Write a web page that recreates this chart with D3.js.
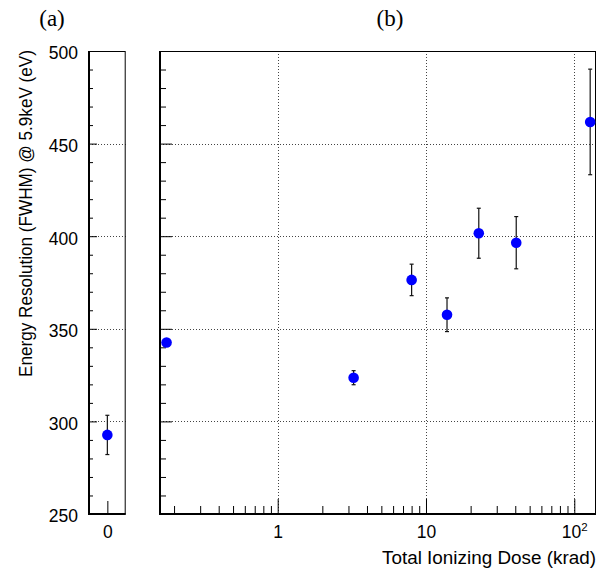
<!DOCTYPE html>
<html><head><meta charset="utf-8">
<script src="https://cdn.jsdelivr.net/npm/d3@7"></script>
<style>body{margin:0;background:#fff}svg{display:block}</style>
</head><body><svg id="c" width="597" height="572"></svg>
<script>
// ---- data ----
const preDose = [0];
const preValues = [292.7];
const preErrors = [10.6];
const doses = [0.178, 3.25, 8.0, 13.86, 22.7, 40.6, 128];
const values = [342.6, 323.6, 376.4, 357.6, 401.6, 396.5, 461.7];
const errors = [1.5, 3.8, 8.5, 9.1, 13.5, 14.1, 28.5];
const yMajorTicks = [250, 300, 350, 400, 450, 500];
const yGridTicks = [300, 350, 400, 450];
const xMajorTicks = [1, 10, 100];
const xTickLabels = ["1", "10", "10^2"];
const preTickLabels = ["0"];
const yTitle = "Energy Resolution (FWHM) @ 5.9keV (eV)";
const xTitle = "Total Ionizing Dose (krad)";
const panelLabels = ["(a)", "(b)"];

// ---- layout ----
const svg = d3.select("#c");
const plotTop = 51, plotBottom = 514;
const A = {x0: 89, x1: 125.7};
const B = {x0: 160, x1: 596};
const font = "'Liberation Sans', Arial, Helvetica, sans-serif";
const serif = "'Liberation Serif', 'Times New Roman', serif";
const fs = 17.5;

const y = d3.scaleLinear().domain([250, 500]).range([plotBottom, plotTop]);
const xa = d3.scaleLinear().domain([-1, 1]).range([A.x0, A.x1]);
const xb = d3.scaleLog().domain([0.1608, 140.1]).range([B.x0, B.x1]);

const yMinor = d3.range(250, 501, 10).filter(v => v % 50 !== 0);
const xMinor = [];
[0.1, 1, 10].forEach(d => { for (let k = 2; k <= 9; k++) { const v = +(d * k).toPrecision(3); if (v >= 0.1608 && v <= 140.1) xMinor.push(v); } });

// ---- grid ----
const grid = svg.append("g").attr("stroke", "#444").attr("stroke-width", 1).attr("stroke-dasharray", "1,2").attr("fill", "none");
[A, B].forEach(P => {
  grid.append("g").selectAll("line").data(yGridTicks).join("line")
    .attr("x1", P.x0).attr("x2", P.x1)
    .attr("y1", d => Math.round(y(d)) + 0.5).attr("y2", d => Math.round(y(d)) + 0.5);
});
grid.append("g").selectAll("line").data(xMajorTicks).join("line")
  .attr("x1", d => Math.round(xb(d)) + 0.5).attr("x2", d => Math.round(xb(d)) + 0.5)
  .attr("y1", plotTop).attr("y2", plotBottom);

// ---- axes ----
function styleAxis(g) {
  g.select(".domain").remove();
  g.selectAll("line").attr("stroke", "#000");
  g.selectAll("text").attr("font-family", font).attr("font-size", fs).attr("fill", "#000");
}
// left panel y
svg.append("g").attr("transform", `translate(${A.x0},0)`)
  .call(d3.axisLeft(y).tickValues(yMajorTicks).tickSize(-8).tickPadding(11).tickFormat(d3.format("d")))
  .call(styleAxis)
  .call(g => g.selectAll("text").attr("dy", "0.45em"));
svg.append("g").attr("transform", `translate(${A.x0},0)`)
  .call(d3.axisLeft(y).tickValues(yMinor).tickSize(-4).tickFormat(""))
  .call(styleAxis);
// right panel y
svg.append("g").attr("transform", `translate(${B.x0},0)`)
  .call(d3.axisLeft(y).tickValues(yMajorTicks).tickSize(-12).tickFormat(""))
  .call(styleAxis);
svg.append("g").attr("transform", `translate(${B.x0},0)`)
  .call(d3.axisLeft(y).tickValues(yMinor).tickSize(-6).tickFormat(""))
  .call(styleAxis);
// left panel x
svg.append("g").attr("transform", `translate(0,${plotBottom})`)
  .call(d3.axisBottom(xa).tickValues(preDose).tickSize(-13).tickPadding(11).tickFormat((d, i) => preTickLabels[i]))
  .call(styleAxis)
  .call(g => g.selectAll("text").attr("dy", "0.72em"));
// right panel x
const xAxisG = svg.append("g").attr("transform", `translate(0,${plotBottom})`)
  .call(d3.axisBottom(xb).tickValues(xMajorTicks).tickSize(-15).tickPadding(11).tickFormat(""))
  .call(styleAxis);
svg.append("g").attr("transform", `translate(0,${plotBottom})`)
  .call(d3.axisBottom(xb).tickValues(xMinor).tickSize(-8).tickFormat(""))
  .call(styleAxis);
xAxisG.selectAll(".tick").each(function(d, i) {
  const lab = xTickLabels[i];
  const t = d3.select(this).append("text").attr("y", 24).attr("fill", "#000")
    .attr("font-family", font).attr("font-size", fs).attr("text-anchor", "middle");
  if (lab.includes("^")) {
    const [b, e] = lab.split("^");
    t.append("tspan").text(b);
    t.append("tspan").attr("font-size", 11.5).attr("dy", "-0.65em").text(e);
  } else t.text(lab);
});

// ---- frames ----
[A, B].forEach(P => {
  svg.append("rect").attr("x", P.x0).attr("y", plotTop + 0.5).attr("width", P.x1 - P.x0 - 0.5).attr("height", plotBottom - plotTop - 0.5)
    .attr("fill", "none").attr("stroke", "#000").attr("stroke-width", 1);
  svg.append("line").attr("x1", P.x0).attr("x2", P.x0).attr("y1", plotTop).attr("y2", plotBottom + 1)
    .attr("stroke", "#000").attr("stroke-width", 2);
  svg.append("line").attr("x1", P.x0 - 1).attr("x2", P.x1).attr("y1", plotBottom).attr("y2", plotBottom)
    .attr("stroke", "#000").attr("stroke-width", 2);
});

// ---- data marks ----
function drawPoints(xs, vs, es, xScale) {
  const g = svg.append("g");
  const pts = xs.map((d, i) => ({x: d, v: vs[i], e: es[i]}));
  const eb = g.selectAll("g").data(pts).join("g").attr("stroke", "#111").attr("stroke-width", 1.2);
  eb.append("line").attr("x1", d => xScale(d.x)).attr("x2", d => xScale(d.x))
    .attr("y1", d => y(d.v + d.e)).attr("y2", d => y(d.v - d.e));
  eb.append("line").attr("x1", d => xScale(d.x) - 2).attr("x2", d => xScale(d.x) + 2)
    .attr("y1", d => y(d.v + d.e)).attr("y2", d => y(d.v + d.e));
  eb.append("line").attr("x1", d => xScale(d.x) - 2).attr("x2", d => xScale(d.x) + 2)
    .attr("y1", d => y(d.v - d.e)).attr("y2", d => y(d.v - d.e));
  g.selectAll("circle").data(pts).join("circle")
    .attr("cx", d => xScale(d.x)).attr("cy", d => y(d.v)).attr("r", 5.3).attr("fill", "#0000ff");
}
drawPoints(preDose, preValues, preErrors, xa);
drawPoints(doses, values, errors, xb);

// ---- titles ----
svg.append("text").attr("transform", `translate(32,50) rotate(-90)`).attr("text-anchor", "end")
  .attr("font-family", font).attr("font-size", 19).attr("textLength", 327).attr("lengthAdjust", "spacingAndGlyphs").text(yTitle);
svg.append("text").attr("x", 596).attr("y", 564).attr("text-anchor", "end")
  .attr("font-family", font).attr("font-size", 17.5).attr("textLength", 214).attr("lengthAdjust", "spacingAndGlyphs").text(xTitle);
svg.append("text").attr("x", 52).attr("y", 26).attr("text-anchor", "middle")
  .attr("font-family", serif).attr("font-size", 23).text(panelLabels[0]);
svg.append("text").attr("x", 390).attr("y", 26).attr("text-anchor", "middle")
  .attr("font-family", serif).attr("font-size", 23).text(panelLabels[1]);
</script></body></html>
